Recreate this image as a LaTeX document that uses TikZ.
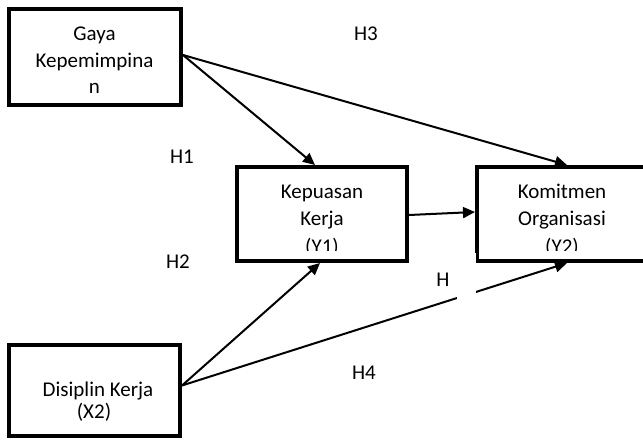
\documentclass[tikz,border=0pt]{standalone}
\usepackage{fontspec}
\setmainfont{Carlito}
\usetikzlibrary{arrows.meta,calc}
\begin{document}
\begin{tikzpicture}[x=1pt,y=-1pt,
  varbox/.style={draw=black,line width=4pt,minimum width=#1,minimum height=94pt,inner sep=0pt,fill=white},
  txt/.style={anchor=base,inner sep=0pt,font=\fontsize{21}{25}\selectfont},
  link/.style={line width=2pt,-{Triangle[length=12pt,width=11pt]}},
  plain/.style={line width=2pt}]
\clip (0,0) rectangle (643,444);
\fill[white] (0,0) rectangle (643,444);
% boxes
\node[varbox=172pt,minimum height=96pt] (gaya) at (95,57) {};
\node[varbox=170pt] (kep) at (322,214) {};
\node[varbox=170pt] (kom) at (562,214) {};
\node[varbox=171pt,minimum height=91pt] (dis) at (94.5,390.5) {};
% texts
\node[txt] (g1) at (94.5,41) {Gaya};
\node[txt] (g2) at (94.5,67) {Kepemimpina};
\node[txt] (g3) at (94.5,93) {n};
\node[txt] (d1) at (98,396) {Disiplin Kerja};
\node[txt] (d2) at (94,418) {(X2)};
\begin{scope}
\clip (200,150) rectangle (643,250.5);
\node[txt] (k1) at (322,198) {Kepuasan};
\node[txt] (k2) at (322,225.5) {Kerja};
\node[txt] (k3) at (322,253) {(Y1)};
\node[txt] (m1) at (562,198) {Komitmen};
\node[txt] (m2) at (562,225.5) {Organisasi};
\node[txt] (m3) at (562,253) {(Y2)};
\end{scope}
% connectors
\coordinate (gs) at ($(gaya.east)+(0,-2)$);
\coordinate (ds) at ($(dis.east)+(0,-5)$);
\draw[link] (gs) -- ($(kep.north)+(-7,0)$);
\draw[link] (gs) -- ($(kom.north)+(5,0)$);
\draw[link] ($(kep.east)+(0,1)$) -- ($(kom.west)+(0,-2)$);
\draw[link] (ds) -- ($(kep.south)+(-2,0)$);
\draw[link] (ds) -- ($(kom.south)+(5,0)$);
% white text box covering part of H5
\fill[white] (457,253) rectangle (476,306);
% labels
\node[txt] (h3) at (366,41) {H3};
\node[txt] (h1) at (182,163) {H1};
\node[txt] (h2) at (178,268) {H2};
\node[txt] (h5) at (443,286) {H};
\node[txt] (h4) at (364,379) {H4};
\end{tikzpicture}
\end{document}
